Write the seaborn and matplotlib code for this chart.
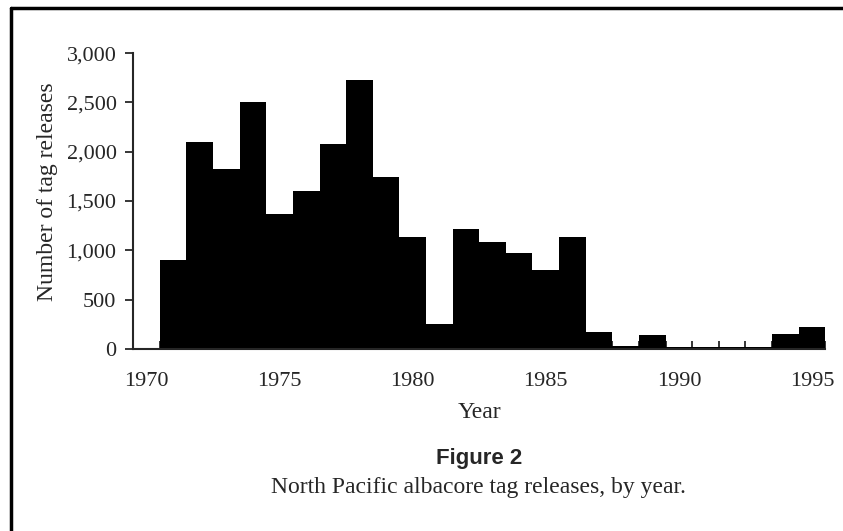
import numpy as np
import pandas as pd
import seaborn as sns
import matplotlib.pyplot as plt
from matplotlib.ticker import FuncFormatter, FixedLocator

# Tag releases per year
years = list(range(1970, 1996))
releases = [0, 900, 2100, 1820, 2500, 1365, 1600, 2075, 2730, 1745,
            1135, 255, 1215, 1085, 970, 800, 1135, 175, 30, 140,
            15, 15, 15, 15, 150, 225]
tick_years = [1970, 1975, 1980, 1985, 1990, 1995]
y_ticks = [0, 500, 1000, 1500, 2000, 2500, 3000]

df = pd.DataFrame({"Year": years, "Releases": releases})

sns.set_style("ticks")
plt.rcParams['font.family'] = ['Liberation Serif', 'DejaVu Serif']

fig = plt.figure(figsize=(8.43, 5.31), dpi=100)
ax = fig.add_axes([0.158, 0.343, 0.821, 0.557])

sns.barplot(data=df, x="Year", y="Releases", color="black", width=1.0,
            saturation=1, linewidth=0, ax=ax)

## axes
ax.set_xlim(-0.5, len(years) - 0.5)
ax.set_ylim(0, 3000)
ax.set_yticks(y_ticks)
ax.yaxis.set_major_formatter(FuncFormatter(lambda v, p: f"{int(v):,}"))
ax.tick_params(axis='y', direction='out', length=6, width=1.3, pad=6, labelsize=16)

# year labels under bar centres, tick marks between bars pointing up
ax.set_xticks([years.index(y) for y in tick_years])
ax.set_xticklabels([str(y) for y in tick_years])
ax.tick_params(axis='x', which='major', length=0, pad=17, labelsize=16)
ax.xaxis.set_minor_locator(FixedLocator(np.arange(-0.5, len(years), 1.0)))
ax.tick_params(axis='x', which='minor', direction='in', length=6, width=1.3)

sns.despine(ax=ax)
for s in ['left', 'bottom']:
    ax.spines[s].set_linewidth(1.5)

ax.set_xlabel("Year", fontsize=17)
ax.xaxis.set_label_coords(0.5, -0.18)
ax.set_ylabel("Number of tag releases", fontsize=17)
ax.yaxis.set_label_coords(-0.108, 0.53)

## caption
fig.text(0.568, 0.137, "Figure 2", ha='center', va='center', fontsize=16,
         fontweight='bold', family=['Liberation Sans Narrow', 'Liberation Sans', 'DejaVu Sans'])
fig.text(0.568, 0.081, "North Pacific albacore tag releases, by year.", ha='center',
         va='center', fontsize=17)

## frame around the figure (only top and left edges show)
fig.add_artist(plt.Line2D([11 / 843, 11 / 843], [0, 1 - 8 / 531], color='black', lw=2.5,
                          transform=fig.transFigure))
fig.add_artist(plt.Line2D([11 / 843, 1], [1 - 8 / 531, 1 - 8 / 531], color='black', lw=2.5,
                          transform=fig.transFigure))

plt.savefig("out.png", dpi=100)
